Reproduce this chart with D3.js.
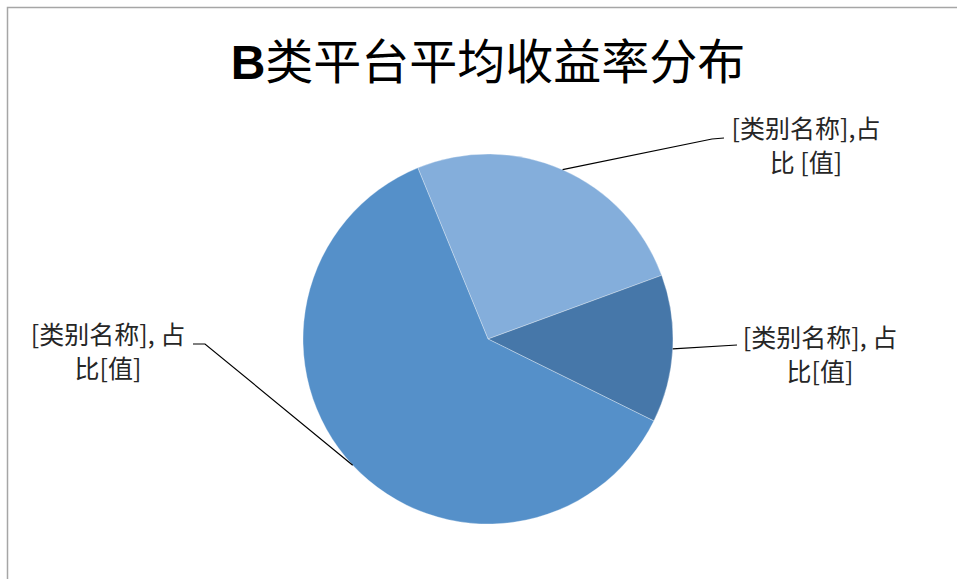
<!DOCTYPE html>
<html>
<head>
<meta charset="utf-8">
<script src="https://cdn.jsdelivr.net/npm/d3@7"></script>
<style>
  body { margin: 0; background: #fff; }
  svg { display: block; }
</style>
</head>
<body>
<svg id="chart" width="957" height="579"></svg>
<script>
// data (shares in %)
const categories = ["类别一", "类别二", "类别三"];
const values = [25.6, 12.9, 61.5];
const labelLines = [
  ["[类别名称],占", "比 [值]"],
  ["[类别名称], 占", "比[值]"],
  ["[类别名称], 占", "比[值]"]
];
const title = "B类平台平均收益率分布";

const svg = d3.select("#chart");
const cx = 488, cy = 339, r = 185;

// chart frame, cut off at right and bottom like the original
svg.append("rect").attr("x", 7.5).attr("y", 7.5).attr("width", 1000).attr("height", 1000)
  .attr("fill", "none").attr("stroke", "#a6a6a6").attr("stroke-width", 1.5);

const t = svg.append("text").attr("x", cx).attr("y", 79).attr("text-anchor", "middle")
  .attr("font-size", 48).attr("fill", "#000")
  .attr("font-family", "'Noto Sans CJK SC', sans-serif");
t.append("tspan").attr("font-family", "'Liberation Sans', sans-serif").attr("font-weight", "bold").text(title[0]);
t.append("tspan").text(title.slice(1));

const color = d3.scaleOrdinal().domain(categories).range(["#84aedb", "#4677a9", "#5590c9"]);

const start = -22.3 * Math.PI / 180;
const pie = d3.pie().sort(null).value(d => d.v).startAngle(start).endAngle(start + 2 * Math.PI);
const arcs = pie(categories.map((c, i) => ({ c: c, v: values[i] })));
const arc = d3.arc().innerRadius(0).outerRadius(r);
const edge = d3.arc().innerRadius(r).outerRadius(r);

const g = svg.append("g").attr("transform", `translate(${cx},${cy})`);
g.selectAll("path.slice").data(arcs).join("path").attr("class", "slice")
  .attr("d", arc).attr("fill", d => color(d.data.c))
  .attr("stroke", "#ffffff").attr("stroke-opacity", 0.4).attr("stroke-width", 0.8);

// label placement (manually dragged in the original)
const labelPos = [
  { x: 806, y: 138, bend: [[712, 139], [724, 138]] },
  { x: 820, y: 347, bend: [[737, 345]] },
  { x: 108, y: 344, bend: [[205, 344], [193, 344]] }
];

arcs.forEach((d, i) => {
  const p = edge.centroid(d);
  const pts = [[cx + p[0], cy + p[1]]].concat(labelPos[i].bend);
  svg.append("path").attr("d", d3.line()(pts))
    .attr("fill", "none").attr("stroke", "#000").attr("stroke-width", 1.2);
  const lt = svg.append("text").attr("text-anchor", "middle")
    .attr("font-size", 25).attr("fill", "#262626")
    .attr("font-family", "'Noto Sans CJK SC', sans-serif");
  labelLines[i].forEach((s, j) => {
    lt.append("tspan").attr("x", labelPos[i].x).attr("y", labelPos[i].y + j * 34).text(s);
  });
});
</script>
</body>
</html>
